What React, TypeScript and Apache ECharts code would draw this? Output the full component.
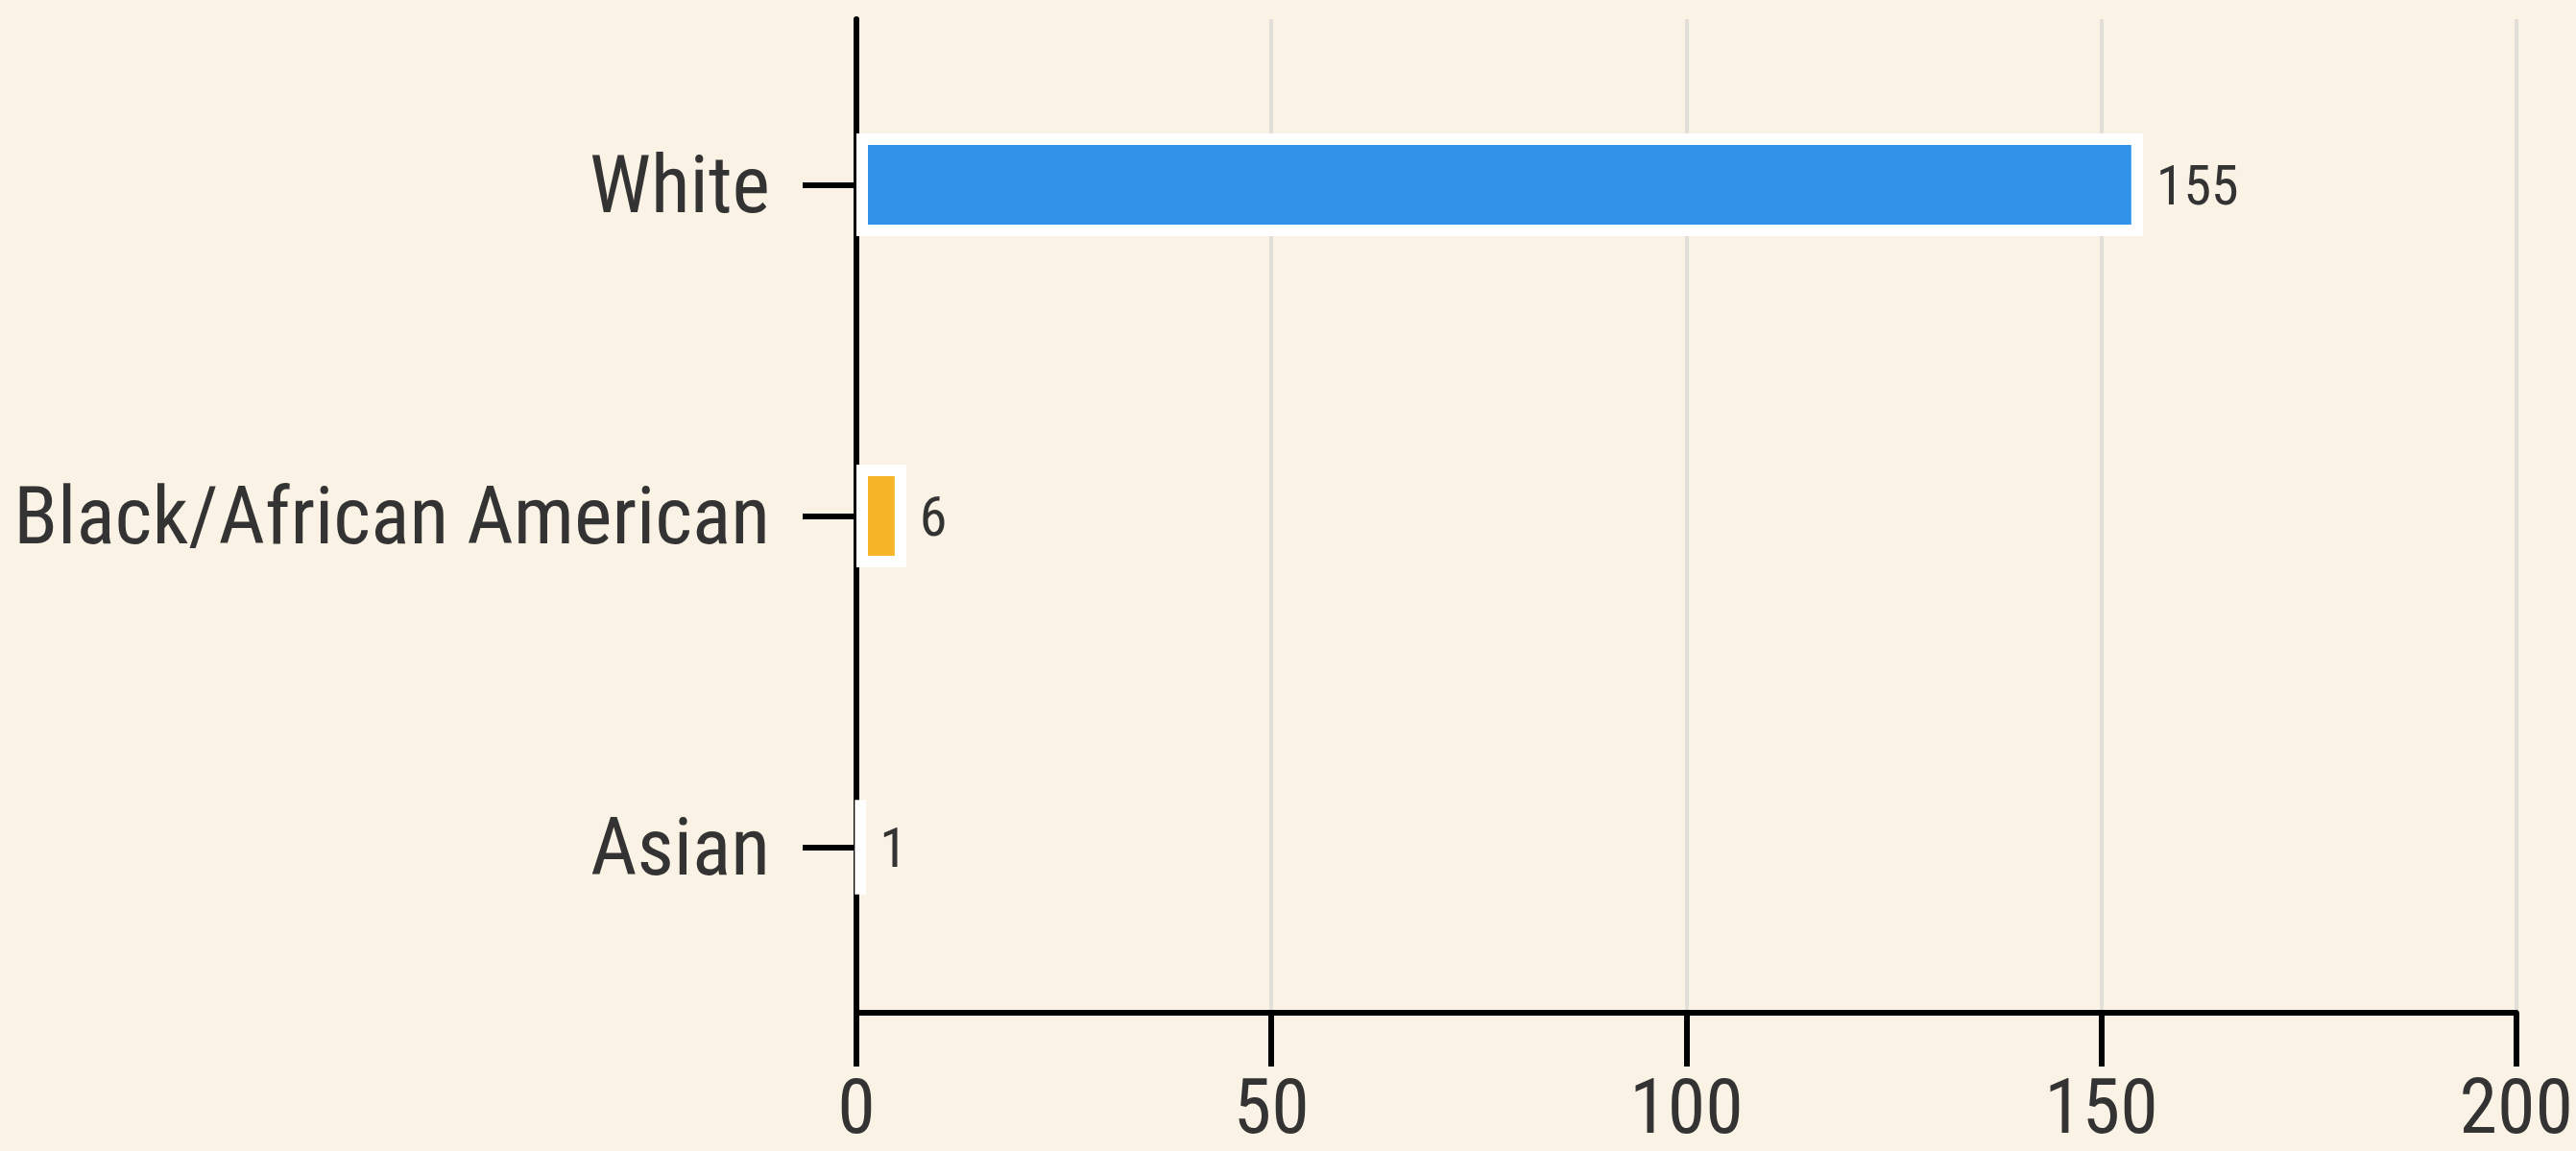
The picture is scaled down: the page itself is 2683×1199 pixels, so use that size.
import React, { useEffect, useRef } from "react";
import * as echarts from "echarts";

const categories = ["White", "Black/African American", "Asian"];
const values = [155, 6, 1];
const barColors = ["#3092e8", "#f5b729", "#5bb974"];
const xTicks = [0, 50, 100, 150, 200];

const FONT = "'Liberation Sans Narrow', 'Roboto Condensed', 'Roboto', sans-serif";

export default function App() {
  const ref = useRef<HTMLDivElement>(null);
  useEffect(() => {
    if (!ref.current) return;
    const chart = echarts.init(ref.current, undefined, { renderer: "svg" });
    chart.setOption({
      animation: false,
      backgroundColor: "#faf2e4",
      grid: { left: 892, right: 56, top: 20, bottom: 144, containLabel: false },
      xAxis: {
        type: "value",
        min: xTicks[0],
        max: xTicks[xTicks.length - 1],
        interval: 50,
        axisLine: { show: true, lineStyle: { color: "#000", width: 6 } },
        axisTick: { show: true, length: 56, lineStyle: { color: "#000", width: 6 } },
        axisLabel: { fontSize: 80, color: "#333", fontFamily: FONT, margin: 58 },
        splitLine: { show: true, lineStyle: { color: "#e2dfda", width: 4 } },
      },
      yAxis: {
        type: "category",
        data: categories,
        inverse: true,
        axisLine: { show: true, lineStyle: { color: "#000", width: 6 } },
        axisTick: { show: true, alignWithLabel: true, length: 56, lineStyle: { color: "#000", width: 6 } },
        axisLabel: { fontSize: 84, color: "#333", fontFamily: FONT, margin: 90 },
        splitLine: { show: false },
      },
      series: [
        {
          type: "bar",
          barWidth: 107,
          data: values.map((v, i) => ({
            value: v,
            itemStyle: { color: barColors[i], borderColor: "#ffffff", borderWidth: 12 },
          })),
          label: {
            show: true,
            position: "right",
            distance: 14,
            fontSize: 58,
            color: "#333",
            fontFamily: FONT,
          },
        },
      ],
    });
    return () => chart.dispose();
  }, []);
  return (
    <div
      ref={ref}
      style={{ position: "fixed", left: 0, top: 0, width: "2683px", height: "1199px" }}
    />
  );
}
